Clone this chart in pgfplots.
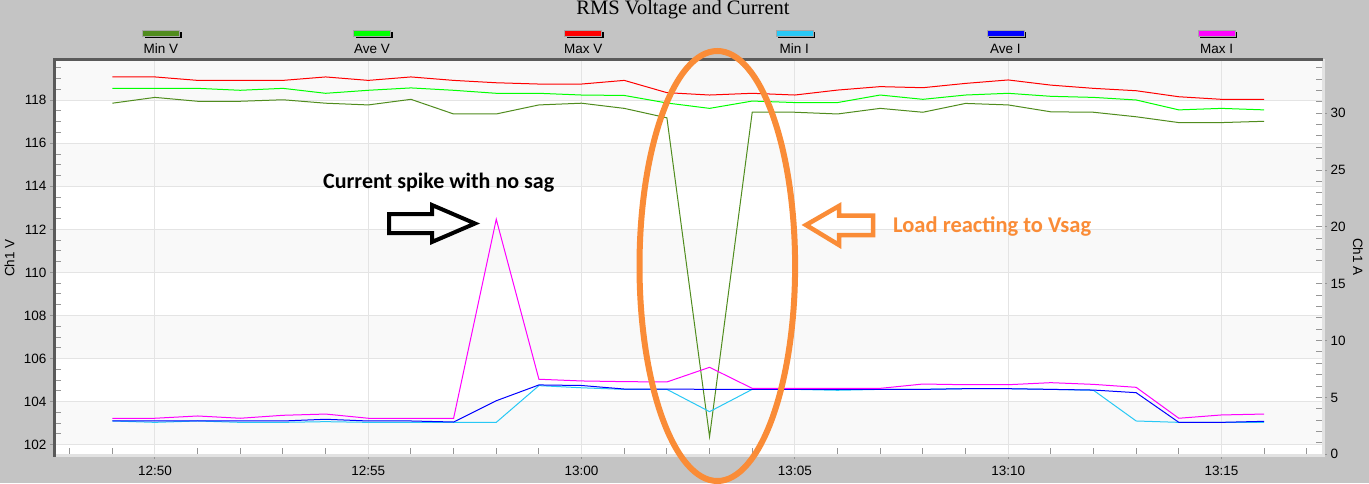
\documentclass[border=0pt]{standalone}
\usepackage{pgfplots}
\usepackage{pgfplotstable}
\pgfplotsset{compat=1.18}
\usepackage{fontspec}
\setmainfont{Liberation Sans}
\newfontfamily\titlefont{Liberation Serif}
\newfontfamily\annofont{Carlito}

\definecolor{bggray}{RGB}{196,196,196}
\definecolor{band}{RGB}{249,249,249}
\definecolor{gridgray}{RGB}{228,228,228}
\definecolor{tickgray}{RGB}{150,150,150}
\definecolor{darkborder}{RGB}{90,90,90}
\definecolor{lightborder}{RGB}{226,226,226}
\definecolor{minvc}{RGB}{80,140,30}
\definecolor{avevc}{RGB}{0,255,0}
\definecolor{maxvc}{RGB}{255,0,0}
\definecolor{minic}{RGB}{40,200,245}
\definecolor{aveic}{RGB}{0,0,255}
\definecolor{maxic}{RGB}{255,0,255}
\definecolor{anno}{RGB}{250,140,55}

% t = minutes after 12:00
\pgfplotstableread{
t  minv    avev    maxv
49 117.86  118.55  119.08
50 118.13  118.55  119.08
51 117.95  118.55  118.92
52 117.95  118.46  118.92
53 118.02  118.55  118.92
54 117.86  118.32  119.08
55 117.78  118.46  118.92
56 118.04  118.57  119.08
57 117.36  118.46  118.92
58 117.36  118.32  118.81
59 117.78  118.32  118.75
60 117.86  118.24  118.75
61 117.62  118.22  118.92
62 117.18  117.87  118.35
63 102.37  117.62  118.24
64 117.44  117.96  118.32
65 117.44  117.89  118.24
66 117.36  117.89  118.47
67 117.62  118.24  118.63
68 117.44  118.04  118.58
69 117.85  118.24  118.78
70 117.78  118.32  118.94
71 117.46  118.18  118.70
72 117.44  118.13  118.55
73 117.23  118.01  118.44
74 116.96  117.55  118.16
75 116.96  117.62  118.04
76 117.02  117.55  118.04
}\voltdata

\pgfplotstableread{
t  mini  avei  maxi
49 2.93  2.93  3.17
50 2.81  2.93  3.17
51 2.93  2.93  3.37
52 2.81  2.93  3.17
53 2.81  2.93  3.43
54 2.87  3.08  3.54
55 2.81  2.93  3.17
56 2.81  2.93  3.17
57 2.81  2.84  3.17
58 2.81  4.71  20.67
59 6.04  6.10  6.60
60 5.85  6.05  6.45
61 5.71  5.74  6.39
62 5.71  5.74  6.36
63 3.75  5.71  7.65
64 5.71  5.71  5.80
65 5.71  5.71  5.80
66 5.63  5.71  5.80
67 5.71  5.71  5.80
68 5.71  5.71  6.18
69 5.77  5.77  6.12
70 5.77  5.77  6.12
71 5.71  5.71  6.30
72 5.63  5.65  6.15
73 2.93  5.42  5.89
74 2.81  2.81  3.17
75 2.81  2.81  3.46
76 2.81  2.90  3.54
}\currdata

\pgfplotsset{
  base/.style={
    at={(55pt,28.7pt)}, anchor=south west, scale only axis,
    width=1267pt, height=394.8pt,
    xmin=47.656, xmax=77.356,
    axis line style={draw=none},
    tick style={color=tickgray, line width=1pt},
    ticklabel style={font=\fontsize{13.5}{16}\selectfont},
    /pgf/number format/assume math mode=true,
  }
}

\begin{document}
\begin{tikzpicture}[x=1pt,y=1pt]
\useasboundingbox (0,0) rectangle (1369,483);
\fill[bggray] (0,0) rectangle (1369,483);
\begin{scope}[y=-1pt, yshift=483pt]
  \fill[white] (55,59.5) rectangle (1322,454.3);
  \fill[band] (55,59.5) rectangle (1322,100.2);
  \fill[band] (55,143.3) rectangle (1322,186.3);
  \fill[band] (55,229.4) rectangle (1322,272.5);
  \fill[band] (55,315.5) rectangle (1322,358.6);
  \fill[band] (55,401.7) rectangle (1322,444.8);
\end{scope}

% inner minor ticks (left / bottom)
\begin{axis}[base,
  ymin=101.553, ymax=119.89,
  xtick={48,...,77}, ytick={101.5,102,...,119.5},
  xticklabels={}, yticklabels={},
  tick align=inside, major tick length=6pt, tick pos=left]
\end{axis}
% inner minor ticks (right)
\begin{axis}[base,
  ymin=0, ymax=34.72,
  xtick=\empty, ytick={1,...,34}, yticklabels={},
  tick align=inside, major tick length=6pt, ytick pos=right]
\end{axis}

% voltage axis
\begin{axis}[base,
  ymin=101.553, ymax=119.89,
  xtick={50,55,...,75},
  xticklabels={12:50,12:55,13:00,13:05,13:10,13:15},
  ytick={102,104,...,118},
  tick align=outside, major tick length=5pt, tick pos=left,
  grid=major, major grid style={color=gridgray, line width=1pt},
  xticklabel style={yshift=-3pt},
]
\addplot[minvc, line width=1pt] table[x=t, y=minv] {\voltdata};
\addplot[avevc, line width=1pt] table[x=t, y=avev] {\voltdata};
\addplot[maxvc, line width=1pt] table[x=t, y=maxv] {\voltdata};
\end{axis}

% current axis
\begin{axis}[base,
  ymin=0, ymax=34.72,
  xtick=\empty, ytick={0,5,...,30},
  tick align=outside, major tick length=5pt,
  ytick pos=right, yticklabel pos=right,
]
\addplot[minic, line width=1pt] table[x=t, y=mini] {\currdata};
\addplot[aveic, line width=1pt] table[x=t, y=avei] {\currdata};
\addplot[maxic, line width=1pt] table[x=t, y=maxi] {\currdata};
\end{axis}

\begin{scope}[y=-1pt, yshift=483pt]
  % borders
  \draw[lightborder, line width=3pt] (55,455) -- (1323.3,455) -- (1323.3,59);
  \draw[darkborder, line width=3pt] (54.3,456.5) -- (54.3,59.7) -- (1323,59.7);
  % title
  \node[font=\titlefont\fontsize{20.5}{22}\selectfont, anchor=base, inner sep=0] at (683,15) {RMS Voltage and Current};
  % legend
  \foreach \c/\n [count=\i from 0] in {minvc/Min V, avevc/Ave V, maxvc/Max V, minic/Min I, aveic/Ave I, maxic/Max I} {
    \pgfmathsetmacro\xc{161+211.1*\i}
    \fill[black] (\xc-16.5,32) rectangle (\xc+20.5,38);
    \fill[\c] (\xc-18.5,30) rectangle (\xc+18.5,36);
    \draw[gray!70, line width=0.6pt] (\xc-18.5,30) rectangle (\xc+18.5,36);
    \node[font=\fontsize{13.5}{15}\selectfont, anchor=base, inner sep=0] at (\xc,54) {\n};
  }
  % axis titles
  \node[rotate=90, font=\fontsize{13.5}{15}\selectfont] at (9.5,258) {Ch1 V};
  \node[rotate=-90, font=\fontsize{13.5}{15}\selectfont] at (1358,257) {Ch1 A};
  % annotations
  \node[font=\annofont\bfseries\fontsize{22}{24}\selectfont, anchor=base west, inner sep=0] at (323,188.3) {Current spike with no sag};
  \draw[black, line width=4pt, line join=miter] (389,214) -- (432,214) -- (432,205) -- (475,223.5) -- (432,242) -- (432,233) -- (389,233) -- cycle;
  \node[anno, font=\annofont\bfseries\fontsize{22.5}{24}\selectfont, anchor=base west, inner sep=0] at (893,232.7) {Load reacting to Vsag};
  \draw[anno, line width=4.5pt, line join=miter] (806,225) -- (839,206) -- (839,215.5) -- (873,215.5) -- (873,235) -- (839,235) -- (839,245) -- cycle;
  \draw[anno, line width=6pt] (717.3,266) ellipse [x radius=77.8, y radius=215];
\end{scope}
\end{tikzpicture}
\end{document}
